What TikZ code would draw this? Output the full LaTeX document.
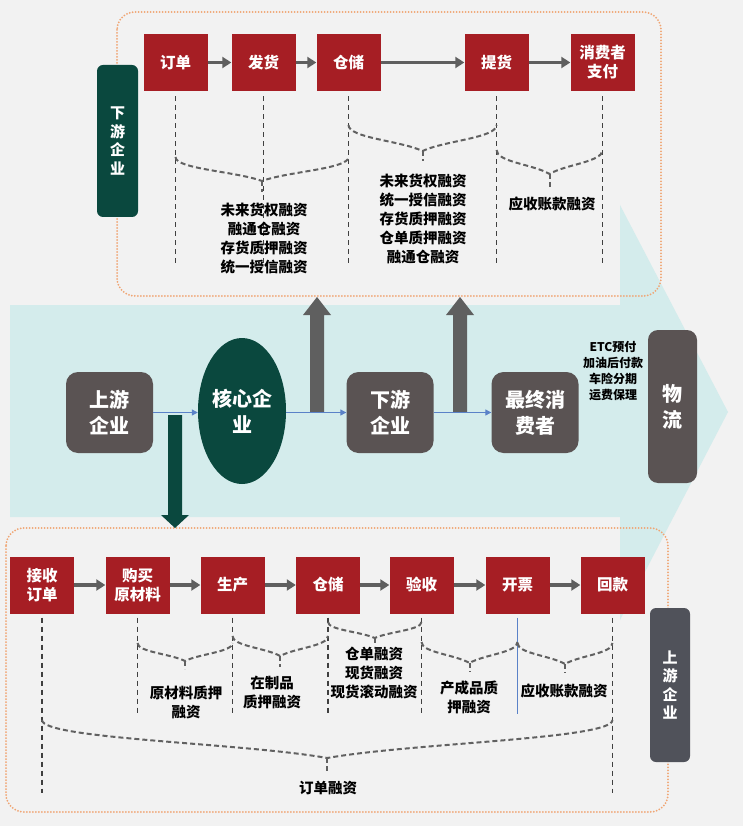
\documentclass[tikz,border=0pt]{standalone}
\usepackage{fontspec}
\setmainfont{Noto Sans CJK SC}
\usetikzlibrary{arrows.meta,shapes.geometric}
\definecolor{bgc}{RGB}{242,242,242}
\definecolor{cyanA}{RGB}{212,236,236}
\definecolor{redB}{RGB}{166,30,36}
\definecolor{grayB}{RGB}{90,83,83}
\definecolor{greenB}{RGB}{10,72,62}
\definecolor{orangeD}{RGB}{240,165,115}
\definecolor{connG}{RGB}{95,95,95}
\definecolor{blueL}{RGB}{90,130,200}
\definecolor{slateB}{RGB}{80,82,90}
\tikzset{
 redbox/.style={fill=redB, text=white, minimum width=64, minimum height=57, inner sep=0, align=center, font=\fontsize{15.5}{19}\selectfont\bfseries},
 graybox/.style={fill=grayB, rounded corners=12, text=white, minimum width=87, minimum height=81, inner sep=0, align=center, font=\fontsize{20}{26}\selectfont\bfseries},
 flowarrow/.style={draw=connG, line width=3.5, -{Triangle[length=9pt,width=11pt]}},
 bluearrow/.style={draw=blueL, line width=1.2, -{Triangle[length=6pt,width=6pt]}},
 vdash/.style={draw=black!75, line width=1.2, dash pattern=on 5pt off 4pt},
 bracesty/.style={draw=black!62, line width=2, dash pattern=on 5pt off 3pt},
 orangebox/.style={draw=orangeD, line width=2, dash pattern=on 0pt off 3pt, line cap=round, rounded corners=18},
 fintext/.style={align=center, text=black, font=\fontsize{14.5}{19}\selectfont\bfseries, inner sep=0},
 vlabel/.style={rounded corners=6, text=white, align=center, inner sep=0, font=\fontsize{15}{18.5}\selectfont\bfseries},
 bigarrow/.style={fill=connG},
}
\newcommand{\cbrace}[5]{%
  \pgfmathsetmacro{\cbm}{(#1+#2)/2}%
  \pgfmathsetmacro{\cbw}{(#2-#1)/2}%
  \pgfmathsetmacro{\cbh}{#4-#3}%
  \draw[bracesty] (#1,#3) .. controls (#1,#3+0.5*\cbh) and (\cbm-0.3*\cbw,#3+0.6*\cbh) .. (\cbm,#4) .. controls (\cbm+0.3*\cbw,#3+0.6*\cbh) and (#2,#3+0.5*\cbh) .. (#2,#3);
  \draw[bracesty] (\cbm,#4) -- (\cbm,#5);
}
\begin{document}
\begin{tikzpicture}[x=1pt,y=-1pt]
\useasboundingbox (0,0) rectangle (743,826);
\fill[bgc] (0,0) rectangle (743,826);
% big cyan arrow
\fill[cyanA] (10,305) -- (620,305) -- (620,205) -- (728,412) -- (620,620) -- (620,517) -- (10,517) -- cycle;
% orange frames
\draw[orangebox] (117,12) rectangle (661,296);
\draw[orangebox] (6,528) rectangle (668,812);

% ---------- top row ----------
\node[redbox] (t1) at (175.5,62.5) {订单};
\node[redbox] (t2) at (263.5,62.5) {发货};
\node[redbox] (t3) at (348.5,62.5) {仓储};
\node[redbox] (t4) at (496.5,62.5) {提货};
\node[redbox] (t5) at (602.5,62.5) {消费者\\支付};
\draw[flowarrow] (t1) -- (t2);
\draw[flowarrow] (t2) -- (t3);
\draw[flowarrow] (t3) -- (t4);
\draw[flowarrow] (t4) -- (t5);
\foreach \n in {t1,t2,t3,t4,t5}{
  \draw[vdash] ([yshift=-5pt]\n.south) -- (\n.south |- 0,267);
}
\cbrace{175.5}{348.5}{157}{181}{192}
\cbrace{348.5}{496.5}{125}{151}{161}
\cbrace{496.5}{602.5}{150}{174}{188}
\node[fintext] (f1) at (264,238.5) {未来货权融资\\融通仓融资\\存货质押融资\\统一授信融资};
\node[fintext] (f2) at (423,218.5) {未来货权融资\\统一授信融资\\存货质押融资\\仓单质押融资\\融通仓融资};
\node[fintext] (f3) at (552,204) {应收账款融资};
\node[vlabel, fill=greenB, minimum width=41, minimum height=152] (dsE) at (117.5,141) {下\\游\\企\\业};

% ---------- middle ----------
\fill[bigarrow] (310,412) -- (310,315) -- (303,315) -- (317,297) -- (331,315) -- (324,315) -- (324,412) -- cycle;
\fill[bigarrow] (453,412) -- (453,315) -- (446,315) -- (460,297) -- (474,315) -- (467,315) -- (467,412) -- cycle;
\fill[greenB] (168,415) -- (168,515) -- (161,515) -- (175,528) -- (189,515) -- (182,515) -- (182,415) -- cycle;
\node[graybox] (up) at (109.5,412.5) {上游\\企业};
\node[ellipse, fill=greenB, minimum width=88, minimum height=146, inner sep=0, text=white, align=center, font=\fontsize{20}{26}\selectfont\bfseries] (core) at (242,411) {核心企\\业};
\node[graybox] (down) at (390,412.5) {下游\\企业};
\node[graybox] (final) at (535,412.5) {最终消\\费者};
\node[graybox, rounded corners=10, minimum width=49, minimum height=153] (logi) at (672.5,406.5) {物\\流};
\node[align=center, text=black, inner sep=0, font=\fontsize{12}{16}\selectfont\bfseries] (etc) at (613,371) {ETC预付\\加油后付款\\车险分期\\运费保理};
\draw[bluearrow] (up.east) -- (up.east -| core.west);
\draw[bluearrow] (core.east |- up.east) -- (down.west);
\draw[bluearrow] (down.east) -- (final.west);

% ---------- bottom row ----------
\node[redbox] (b1) at (42,585) {接收\\订单};
\node[redbox] (b2) at (137.5,585) {购买\\原材料};
\node[redbox] (b3) at (232.5,585) {生产};
\node[redbox] (b4) at (328,585) {仓储};
\node[redbox] (b5) at (421.5,585) {验收};
\node[redbox] (b6) at (517.5,585) {开票};
\node[redbox] (b7) at (612.5,585) {回款};
\draw[flowarrow] (b1) -- (b2);
\draw[flowarrow] (b2) -- (b3);
\draw[flowarrow] (b3) -- (b4);
\draw[flowarrow] (b4) -- (b5);
\draw[flowarrow] (b5) -- (b6);
\draw[flowarrow] (b6) -- (b7);
\draw[vdash] ([yshift=-4pt]b1.south) -- (b1.south |- 0,793);
\draw[vdash] ([yshift=-4pt]b7.south) -- (b7.south |- 0,793);
\foreach \n in {b2,b3,b4,b5}{
  \draw[vdash] ([yshift=-4pt]\n.south) -- (\n.south |- 0,714);
}
\draw[draw=blueL, line width=1.2] ([yshift=-4pt]b6.south) -- (b6.south |- 0,714);
\cbrace{137.5}{232.5}{643}{661}{669}
\cbrace{232.5}{328}{636}{656}{667}
\cbrace{328}{421.5}{622}{638}{646}
\cbrace{421.5}{517.5}{642}{663}{672}
\cbrace{517.5}{612.5}{643}{664}{673}
\cbrace{42}{612.5}{720}{758}{772}
\node[fintext] (g1) at (186,702.5) {原材料质押\\融资};
\node[fintext] (g2) at (272,692.5) {在制品\\质押融资};
\node[fintext] (g3) at (374,672.5) {仓单融资\\现货融资\\现货滚动融资};
\node[fintext] (g4) at (469,697.5) {产成品质\\押融资};
\node[fintext] (g5) at (564,691) {应收账款融资};
\node[fintext] (g6) at (328,788) {订单融资};
\node[vlabel, fill=slateB, minimum width=40, minimum height=154] (usE) at (670,685) {上\\游\\企\\业};
\end{tikzpicture}
\end{document}
